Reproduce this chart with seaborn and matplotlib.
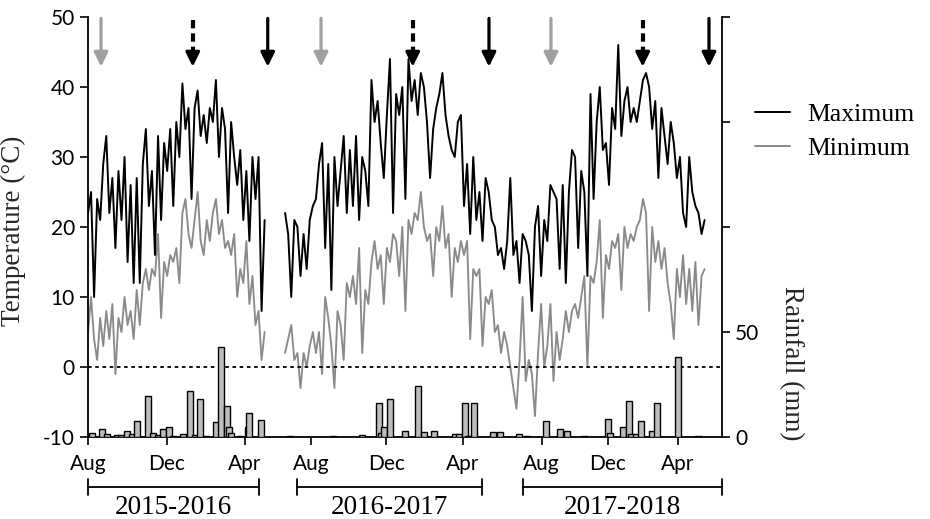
import matplotlib
matplotlib.use('Agg')
import matplotlib.pyplot as plt
import seaborn as sns
import numpy as np
import pandas as pd
from matplotlib.lines import Line2D

# daily max / min temperature (deg C), read every ~5 days off the plotted axis
tmax_1 = [22, 25, 10, 24, 21, 29, 33, 22, 27, 17, 28, 21, 30, 15, 26, 12, 27, 12, 29, 34,
          23, 28, 16, 33, 21, 32, 28, 34, 23, 35, 30, 40.5, 34, 37, 24, 37, 39.5, 33, 36, 32,
          37, 35, 41, 30, 37, 34, 22, 35, 30, 26, 31, 21, 28, 18, 30, 24, 30, 8, 21]
tmin_1 = [5, 10, 4, 1, 7, 3, 8, 4, 9, -1, 7, 5, 10, 6, 8, 4, 11, 6, 12, 14,
          11, 14, 13, 19, 7, 15, 13, 16, 15, 17, 12, 22, 24, 19, 17, 21, 25, 18, 16, 21,
          18, 22, 24, 19, 21, 17, 18, 16, 19, 10, 14, 12, 18, 9, 13, 6, 8, 1, 5]

tmax_2 = [22, 19, 10, 21, 20, 13, 19, 14, 21, 23, 24, 29, 32, 17, 29, 11, 30, 23, 28, 33,
          22, 31, 23, 33, 21, 30, 28, 23, 41, 35, 38, 32, 27, 36, 44, 22, 39, 36, 40, 24,
          44, 38, 41, 36, 42, 40, 35, 27, 34, 37, 39, 42, 36, 33, 31, 30, 35, 36, 23, 29,
          19, 30, 21, 25, 18, 27, 25, 21, 20, 16, 17, 14, 18, 27, 16, 18, 12, 19, 18, 16,
          8, 20, 23, 13, 21, 18, 26, 25, 24, 14, 26, 12, 25, 31, 30, 17, 28, 25, 13, 39,
          24, 35, 40, 31, 32, 26, 37, 34, 46, 33, 38, 40, 35, 37, 35, 38, 41, 42, 40, 34,
          38, 27, 37, 33, 29, 35, 32, 27, 30, 22, 20, 30, 25, 23, 22, 19, 21]
tmin_2 = [2, 4, 6, 1, 2, -3, 2, 0, 3, 5, 2, 5, -1, 10, 7, 3, -3, 8, 6, 1,
          12, 10, 13, 9, 17, 2, 11, 9, 15, 18, 14, 16, 9, 17, 15, 19, 18, 13, 20, 8,
          21, 19, 22, 21, 25, 20, 18, 19, 13, 20, 18, 23, 17, 19, 10, 17, 15, 18, 16, 18,
          4, 14, 13, 14, 3, 10, 9, 11, 5, 6, 2, 5, 3, 0, -3, -6, 1, 10, -2, 1,
          -1, -7, 2, 9, 0, 3, 9, -2, 5, 1, 4, 8, 5, 8, 9, 7, 10, 13, 0, 13,
          12, 15, 21, 7, 16, 14, 18, 17, 19, 11, 20, 17, 19, 18, 20, 21, 24, 22, 8, 20,
          15, 18, 14, 17, 12, 9, 4, 14, 10, 16, 9, 14, 8, 15, 6, 13, 14]

day_1 = np.linspace(0, 285, len(tmax_1))
day_2 = np.linspace(318, 995, len(tmax_2))

# rainfall (mm)
rain_day = [6, 23, 31, 47, 53, 63, 71, 79, 97, 105, 113, 121, 131, 137, 153, 165, 173, 181,
            190, 206, 215, 224, 227, 231, 245, 258, 260, 279,
            326, 395, 442, 469, 473, 477, 487, 511, 532, 542, 558, 592, 598, 608, 613, 623,
            653, 665, 695, 708, 739, 761, 773, 800, 839, 842, 863, 873, 876, 884, 892, 910,
            918, 952, 985]
rain_mm = [2, 4, 1.5, 1, 1, 3, 1.5, 7.5, 19.5, 2, 1, 4, 5, 0.5, 1.5, 22, 1, 18,
           0.5, 7, 43, 15, 5, 2, 0.5, 5, 11.5, 8,
           0.3, 0.3, 1, 16, 2, 5, 18, 3, 24.5, 2.5, 3, 1.5, 1.5, 16, 0.5, 16,
           2.5, 2.5, 1.5, 0.3, 7.5, 4, 3, 0.5, 8.5, 2, 5, 17, 1.5, 1.5, 7.5, 3,
           16, 38, 0.3]

month_ticks = [0, 127, 253, 360, 481, 605, 732, 839, 952]
month_labels = ['Aug', 'Dec', 'Apr'] * 3

arrow_grey = [21, 376, 747]
arrow_dashed = [169, 524, 895]
arrow_solid = [290, 647, 1002]

seasons = ['2015-2016', '2016-2017', '2017-2018']
season_start = [0, 337, 702]
season_end = [276, 635, 1023]

sns.set_style('ticks')
plt.rcParams['font.family'] = ['Lato', 'DejaVu Sans']
plt.rcParams['axes.unicode_minus'] = False
plt.rcParams['text.color'] = 'black'
plt.rcParams['xtick.color'] = 'black'
plt.rcParams['ytick.color'] = 'black'
serif = ['Liberation Serif', 'DejaVu Serif']

fig, ax = plt.subplots(figsize=(9.3, 5.19), dpi=100)
fig.subplots_adjust(left=88 / 930, right=722 / 930, bottom=1 - 437 / 519, top=1 - 17 / 519)

black = 'black'
grey = '#8a8a8a'
for d, tx, tn in [(day_1, tmax_1, tmin_1), (day_2, tmax_2, tmin_2)]:
    seg = pd.DataFrame({'day': d, 'tmax': tx, 'tmin': tn})
    sns.lineplot(data=seg, x='day', y='tmin', ax=ax, color=grey, lw=1.35)
    sns.lineplot(data=seg, x='day', y='tmax', ax=ax, color=black, lw=1.4)

ax.axhline(0, color='black', ls=(0, (2, 2)), lw=1.3)

ax.set_xlim(0, 1023)
ax.set_ylim(-10, 50)
ax.set_yticks(range(-10, 51, 10))
ax.set_xticks(month_ticks)
ax.set_xticklabels(month_labels)
ax.tick_params(labelsize=15, length=6, width=1.2, direction='out')
ax.tick_params(axis='x', pad=6)
ax.set_xlabel('')
ax.set_ylabel('Temperature (°C)', fontsize=19.5, family=serif)
ax.yaxis.set_label_coords(-0.098, 0.49)
for s in ['top', 'right']:
    ax.spines[s].set_visible(False)
for s in ['left', 'bottom']:
    ax.spines[s].set_linewidth(1.3)
    ax.spines[s].set_color('black')

# rainfall bars on right axis
ax2 = ax.twinx()
ax2.bar(rain_day, rain_mm, width=10, color='#bdbdbd', edgecolor='black', linewidth=1)
ax2.set_ylim(0, 200)
ax2.set_yticks([0, 50, 100, 150, 200])
ax2.set_yticklabels(['0', '50', '', '', ''])
ax2.tick_params(labelsize=15, length=6, width=1.2)
ax2.set_ylabel('Rainfall (mm)', fontsize=19.5, family=serif, rotation=270, va='center')
ax2.yaxis.set_label_coords(1.11, 0.176)
for s in ['top', 'left', 'bottom']:
    ax2.spines[s].set_visible(False)
ax2.spines['right'].set_linewidth(1.3)
ax2.spines['right'].set_color('black')

# arrows
for d in arrow_grey:
    ax.annotate('', xy=(d, 42.9), xytext=(d, 49.8),
                arrowprops=dict(arrowstyle='-|>,head_length=0.85,head_width=0.42',
                                color='#a0a0a0', lw=2.3, shrinkA=0, shrinkB=0))
for d in arrow_solid:
    ax.annotate('', xy=(d, 42.9), xytext=(d, 49.8),
                arrowprops=dict(arrowstyle='-|>,head_length=0.85,head_width=0.42',
                                color='black', lw=2.3, shrinkA=0, shrinkB=0))
for d in arrow_dashed:
    ax.plot([d, d], [49.6, 45.0], color='black', lw=3, ls=(0, (2, 1.2)), solid_capstyle='butt')
    ax.annotate('', xy=(d, 42.9), xytext=(d, 45.2),
                arrowprops=dict(arrowstyle='-|>,head_length=0.85,head_width=0.42',
                                color='black', lw=2.3, shrinkA=0, shrinkB=0))

# season brackets below the axis
tr = ax.get_xaxis_transform()
for name, a, b in zip(seasons, season_start, season_end):
    ax.plot([a, b], [-0.119, -0.119], color='black', lw=1.3, transform=tr, clip_on=False)
    for e in (a, b):
        ax.plot([e, e], [-0.138, -0.100], color='black', lw=1.3, transform=tr, clip_on=False)
    ax.text((a + b) / 2, -0.168, name, transform=tr, ha='center', va='center',
            fontsize=19.5, family=serif)

handles = [Line2D([], [], color=black, lw=1.4), Line2D([], [], color=grey, lw=1.4)]
fig.legend(handles, ['Maximum', 'Minimum'], loc='center left', bbox_to_anchor=(755 / 930, 1 - 131.5 / 519),
           frameon=False, prop={'family': serif, 'size': 18.5}, handlelength=1.35,
           handletextpad=0.7, labelspacing=0.45, borderpad=0, borderaxespad=0)

fig.savefig('out.png', dpi=100)
